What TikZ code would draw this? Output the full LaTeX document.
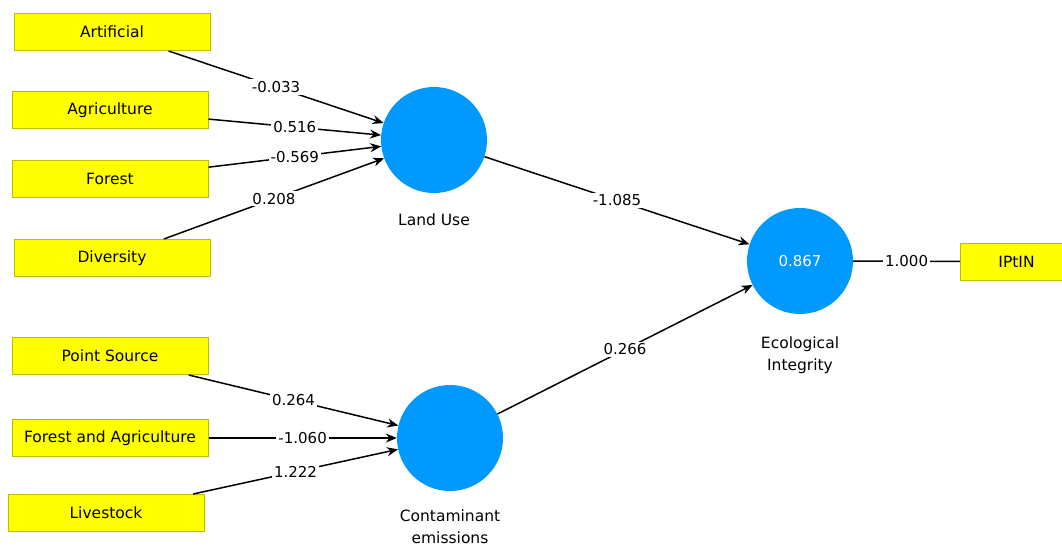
\documentclass[tikz,border=0pt]{standalone}
\usepackage{fontspec}
\setmainfont{DejaVu Sans}
\usetikzlibrary{arrows.meta}
\definecolor{amarillo}{RGB}{255,255,0}
\definecolor{bordeam}{RGB}{190,190,0}
\definecolor{azulpls}{RGB}{0,153,255}

\begin{document}
\begin{tikzpicture}[x=1pt, y=-1pt,
    indicador/.style={draw=bordeam, fill=amarillo, line width=1pt,
        minimum width=196pt, minimum height=37pt, inner sep=0pt,
        font=\fontsize{15.5}{18}\selectfont},
    constructo/.style={circle, fill=azulpls, minimum size=106pt, inner sep=0pt,
        text=white, font=\fontsize{15}{18}\selectfont},
    nombre/.style={align=center, font=\fontsize{15.5}{22}\selectfont},
    flecha/.style={line width=1.5pt, -{Stealth[length=11pt, width=9pt]}},
    peso/.style={midway, fill=white, inner sep=2pt,
        font=\fontsize{15}{17}\selectfont}]

    % Marco fijo de la figura
    \clip (0,0) rectangle (1062,547);

    % --- Variables latentes ---
    \node[constructo] (lu) at (434,140) {};
    \node[constructo] (ce) at (450,438) {};
    \node[constructo] (ei) at (800,261) {0.867};

    \node[nombre] (lunom) at (434,220) {Land Use};
    \node[nombre] (cenom) at (450,527) {Contaminant\\emissions};
    \node[nombre] (einom) at (800,355) {Ecological\\Integrity};

    % --- Indicadores (índice, x, y, texto, peso, destino) ---
    \foreach \i/\px/\py/\txt/\w/\dest in {
        1/112/32/Artificial/-0.033/lu,
        2/110/110/Agriculture/0.516/lu,
        3/110/179/Forest/-0.569/lu,
        4/112/258/Diversity/0.208/lu,
        5/110/356/Point Source/0.264/ce,
        6/110/438/Forest and Agriculture/-1.060/ce,
        7/106/513/Livestock/1.222/ce}{
        \node[indicador] (x\i) at (\px,\py) {\txt};
        \draw[flecha] (x\i) -- (\dest) node[peso] {\w};
    }

    % --- Modelo estructural ---
    \draw[flecha] (lu) -- (ei) node[peso] {-1.085};
    \draw[flecha] (ce) -- (ei) node[peso] {0.266};

    % Indicador reflectivo (cortado en el borde)
    \node[indicador, minimum width=112pt, anchor=west] (y1) at (960,261.5) {IPtIN};
    \draw[line width=1.5pt] (ei) -- (y1) node[peso] {1.000};

\end{tikzpicture}
\end{document}
